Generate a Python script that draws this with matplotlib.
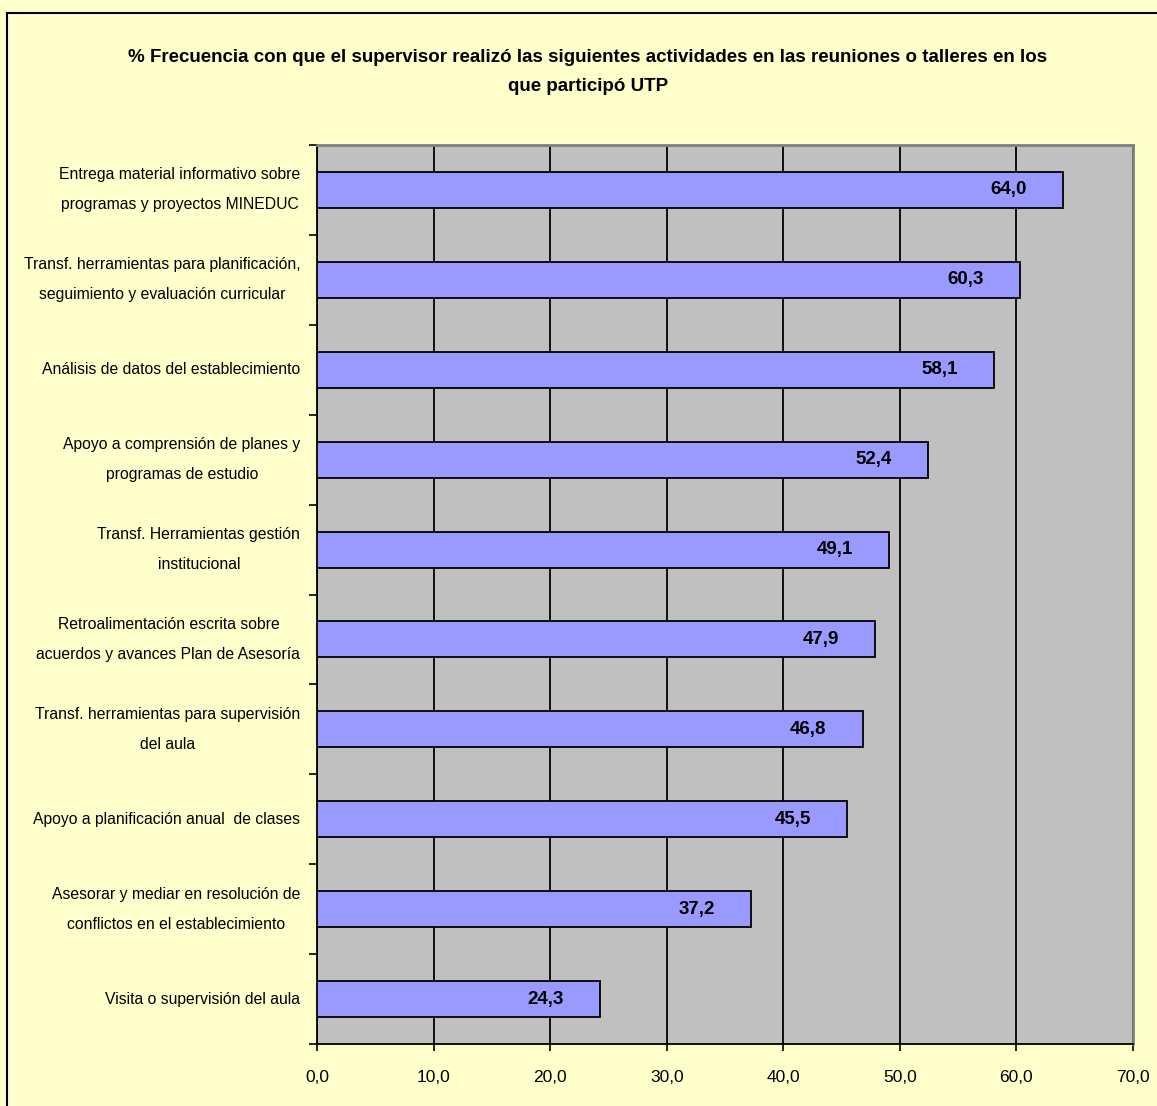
import matplotlib
matplotlib.use("Agg")
import matplotlib.pyplot as plt
from matplotlib.patches import Rectangle
from matplotlib.ticker import FixedLocator, FuncFormatter

categories = [
    "Entrega material informativo sobre\nprogramas y proyectos MINEDUC",
    "Transf. herramientas para planificación,\nseguimiento y evaluación curricular",
    "Análisis de datos del establecimiento",
    "Apoyo a comprensión de planes y\nprogramas de estudio",
    "Transf. Herramientas gestión\ninstitucional",
    "Retroalimentación escrita sobre\nacuerdos y avances Plan de Asesoría",
    "Transf. herramientas para supervisión\ndel aula",
    "Apoyo a planificación anual  de clases",
    "Asesorar y mediar en resolución de\nconflictos en el establecimiento",
    "Visita o supervisión del aula",
]
values = [64.0, 60.3, 58.1, 52.4, 49.1, 47.9, 46.8, 45.5, 37.2, 24.3]
x_ticks = [0, 10, 20, 30, 40, 50, 60, 70]
title = ("% Frecuencia con que el supervisor realizó las siguientes actividades en las reuniones o talleres en los\n"
         "que participó UTP")

FONT = ["Liberation Sans Narrow", "Liberation Sans", "DejaVu Sans"]
plt.rcParams["font.family"] = FONT

W, H = 1157, 1106
fig = plt.figure(figsize=(W / 100, H / 100), dpi=100)
fig.patch.set_facecolor("#FFFFCC")
fig.patches.append(Rectangle((7 / W, -0.1), 1.2, 1 - 13 / H + 0.1, transform=fig.transFigure,
                             fill=False, edgecolor="black", linewidth=1.5, zorder=10))

ax = fig.add_axes([317 / W, 1 - 1044 / H, (1133 - 317) / W, (1044 - 145) / H])
ax.set_facecolor("#C0C0C0")

n = len(categories)
ypos = list(range(n))
ax.barh(ypos, values, height=0.4, color="#9999FF", edgecolor="black", linewidth=1.3, zorder=3)
ax.set_ylim(n - 0.5, -0.5)
ax.set_xlim(0, 70)

for y, v in zip(ypos, values):
    ax.annotate(f"{v:.1f}".replace(".", ","), xy=(v, y), xytext=(-26, 0), textcoords="offset points",
                ha="right", va="center", fontsize=13.5, fontweight="bold", zorder=4)

ax.xaxis.set_major_locator(FixedLocator(x_ticks))
ax.xaxis.set_major_formatter(FuncFormatter(lambda v, p: f"{v:.1f}".replace(".", ",")))
ax.grid(axis="x", color="black", linewidth=1.3, zorder=1)
ax.set_yticks(ypos)
ax.set_yticklabels(categories, fontsize=11.3, linespacing=2.25)
ax.tick_params(axis="y", which="major", length=0, pad=12)
for lbl in ax.get_yticklabels():
    lbl.set_multialignment("center")
    lbl.set_verticalalignment("center")
ax.yaxis.set_minor_locator(FixedLocator([i - 0.5 for i in range(n + 1)]))
ax.tick_params(axis="y", which="minor", length=6, width=1.2, direction="out")
ax.tick_params(axis="x", length=5, width=1.2, labelsize=12.5, pad=14)

ax.spines["left"].set_color("black")
ax.spines["bottom"].set_color("black")
ax.spines["left"].set_linewidth(1.3)
ax.spines["bottom"].set_linewidth(1.3)
ax.spines["top"].set_color("#808080")
ax.spines["right"].set_color("#808080")
ax.spines["top"].set_linewidth(2)
ax.spines["right"].set_linewidth(2)

fig.text(588 / W, 1 - 72 / H, title, ha="center", va="center", fontsize=13.5, fontweight="bold",
         linespacing=1.95)

fig.savefig("out.png", dpi=100, facecolor=fig.get_facecolor())
